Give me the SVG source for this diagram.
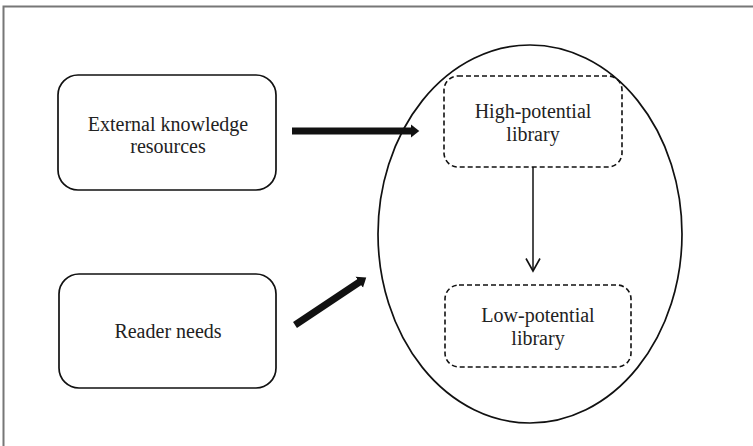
<svg xmlns="http://www.w3.org/2000/svg" width="753" height="446" viewBox="0 0 753 446">
<style>
.t{font-family:"Liberation Serif","Times New Roman",serif;font-size:20px;fill:#222;text-anchor:middle}
.box{fill:none;stroke:#111;stroke-width:1.7}
.dash{fill:none;stroke:#111;stroke-width:1.6;stroke-dasharray:5 3}
.thick{stroke:#111;stroke-width:7;fill:none}
</style>
<defs>
<marker id="ah" markerWidth="3" markerHeight="3" refX="0.3" refY="1.5" orient="auto" markerUnits="strokeWidth" viewBox="0 0 3 3">
<path d="M0,0.55 L1.2,1.5 L0,2.45 Z" fill="#111"/>
</marker>
<marker id="open" markerWidth="16" markerHeight="16" refX="8" refY="14" orient="0" markerUnits="userSpaceOnUse" viewBox="0 0 16 16">
<path d="M1,1.5 L8,14 L15,1.5" fill="none" stroke="#111" stroke-width="1.6"/>
</marker>
</defs>
<rect x="3.5" y="6.5" width="760" height="450" fill="#fff" stroke="#777" stroke-width="2"/>
<g id="external">
<rect class="box" x="58" y="75" width="218" height="115" rx="20"/>
<text class="t" x="168" y="131">External knowledge</text>
<text class="t" x="168" y="153">resources</text>
</g>
<g id="reader">
<rect class="box" x="59" y="274" width="217" height="114" rx="20"/>
<text class="t" x="168" y="338">Reader needs</text>
</g>
<g id="library">
<ellipse class="box" cx="530" cy="234" rx="152" ry="189"/>
</g>
<g id="high">
<rect class="dash" x="444" y="76" width="178" height="91" rx="14"/>
<text class="t" x="533" y="118">High-potential</text>
<text class="t" x="533" y="141">library</text>
</g>
<g id="low">
<rect class="dash" x="445" y="285" width="186" height="82" rx="14"/>
<text class="t" x="538" y="322">Low-potential</text>
<text class="t" x="538" y="345">library</text>
</g>
<g id="connectors">
<line class="thick" x1="292" y1="131" x2="413" y2="131" marker-end="url(#ah)"/>
<line class="thick" x1="295" y1="325" x2="361" y2="281" marker-end="url(#ah)"/>
<line x1="533" y1="167" x2="533" y2="271" stroke="#111" stroke-width="1.5" marker-end="url(#open)"/>
</g>
</svg>
